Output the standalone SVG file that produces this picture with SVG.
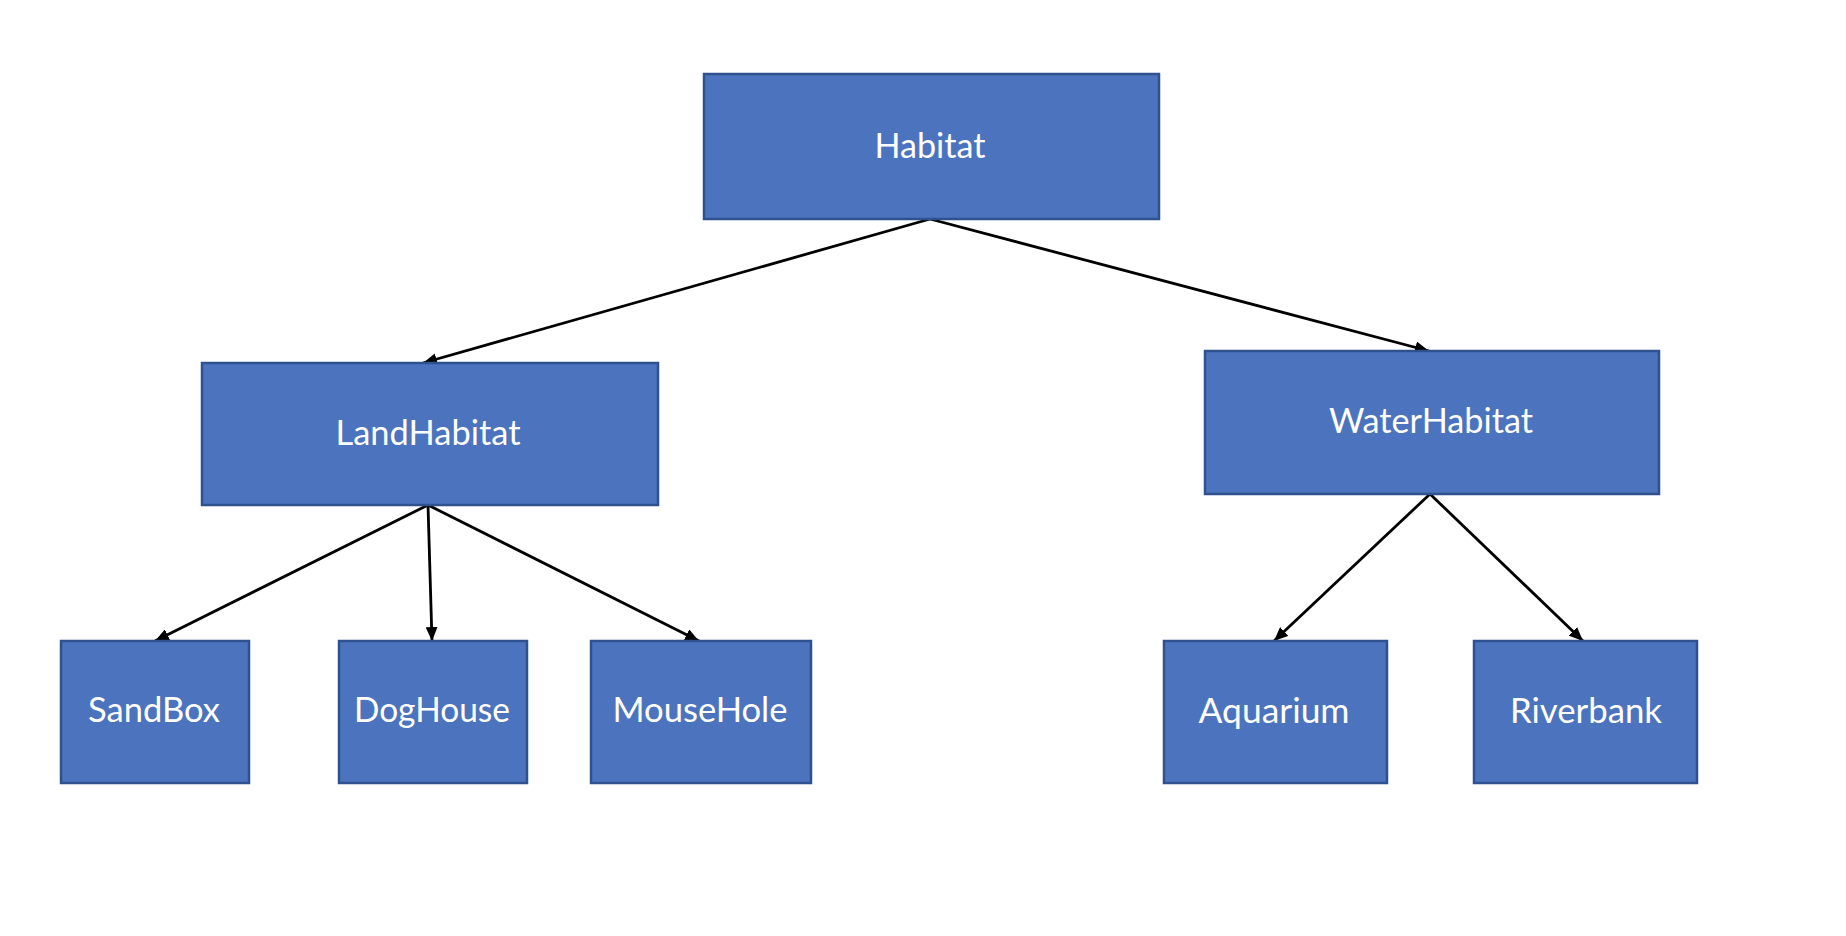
<svg xmlns="http://www.w3.org/2000/svg" width="1846" height="936" viewBox="0 0 1846 936">
<style>
.box{fill:#4B73BE;stroke:#2F528F;stroke-width:2.5}
.lbl{fill:#FFFFFF;font-family:Lato,"Open Sans","Liberation Sans",sans-serif;font-size:35px;text-anchor:middle}
.edge{stroke:#000000;stroke-width:2.8;fill:none;marker-end:url(#arrow)}
</style>
<defs>
<marker id="arrow" markerUnits="userSpaceOnUse" markerWidth="16" markerHeight="12" refX="14" refY="6" orient="auto">
<path d="M0,0 L14,6 L0,12 Z" fill="#000000"/>
</marker>
</defs>
<rect x="0" y="0" width="1846" height="936" fill="#FFFFFF"/>
<g id="connectors">
<line class="edge" x1="930" y1="219" x2="423" y2="363"/>
<line class="edge" x1="930" y1="219" x2="1429" y2="351"/>
<line class="edge" x1="428" y1="505" x2="155" y2="641"/>
<line class="edge" x1="428" y1="505" x2="432" y2="641"/>
<line class="edge" x1="428" y1="505" x2="699" y2="641"/>
<line class="edge" x1="1430" y1="494" x2="1274" y2="641"/>
<line class="edge" x1="1430" y1="494" x2="1583" y2="641"/>
</g>
<g id="habitat">
<rect class="box" x="704" y="74" width="455" height="145"/>
<text class="lbl" x="930" y="158" textLength="111" lengthAdjust="spacingAndGlyphs">Habitat</text>
</g>
<g id="landhabitat">
<rect class="box" x="202" y="363" width="456" height="142"/>
<text class="lbl" x="428" y="445" textLength="185" lengthAdjust="spacingAndGlyphs">LandHabitat</text>
</g>
<g id="waterhabitat">
<rect class="box" x="1205" y="351" width="454" height="143"/>
<text class="lbl" x="1431" y="433" textLength="204" lengthAdjust="spacingAndGlyphs">WaterHabitat</text>
</g>
<g id="sandbox">
<rect class="box" x="61" y="641" width="188" height="142"/>
<text class="lbl" x="154" y="722" textLength="132" lengthAdjust="spacingAndGlyphs">SandBox</text>
</g>
<g id="doghouse">
<rect class="box" x="339" y="641" width="188" height="142"/>
<text class="lbl" x="432" y="722" textLength="156" lengthAdjust="spacingAndGlyphs">DogHouse</text>
</g>
<g id="mousehole">
<rect class="box" x="591" y="641" width="220" height="142"/>
<text class="lbl" x="700" y="722" textLength="175" lengthAdjust="spacingAndGlyphs">MouseHole</text>
</g>
<g id="aquarium">
<rect class="box" x="1164" y="641" width="223" height="142"/>
<text class="lbl" x="1274" y="723" textLength="151" lengthAdjust="spacingAndGlyphs">Aquarium</text>
</g>
<g id="riverbank">
<rect class="box" x="1474" y="641" width="223" height="142"/>
<text class="lbl" x="1586" y="723" textLength="152" lengthAdjust="spacingAndGlyphs">Riverbank</text>
</g>
</svg>
